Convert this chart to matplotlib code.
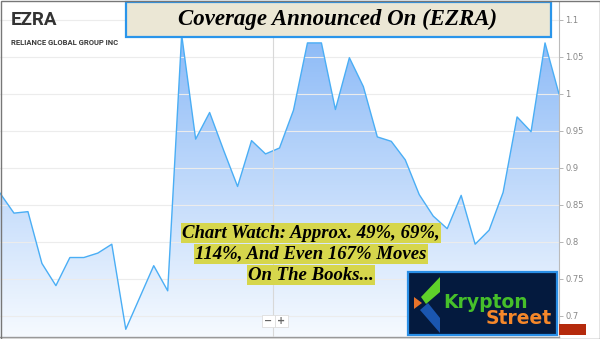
import numpy as np
import matplotlib
matplotlib.use("Agg")
import matplotlib.pyplot as plt
from matplotlib.colors import LinearSegmentedColormap
from matplotlib.patches import Rectangle, Polygon
from matplotlib.transforms import Affine2D

saida = "out.png"

# daily closes (EZRA)
precos = [0.866, 0.839, 0.841, 0.771, 0.741, 0.779, 0.779, 0.785, 0.797, 0.682,
          0.725, 0.768, 0.734, 1.08, 0.939, 0.975, 0.924, 0.875, 0.937, 0.919,
          0.927, 0.978, 1.069, 1.069, 0.979, 1.049, 1.01, 0.942, 0.936, 0.911,
          0.864, 0.835, 0.818, 0.863, 0.797, 0.816, 0.867, 0.969, 0.949, 1.069,
          1.0]
ticks_y = [0.7, 0.75, 0.8, 0.85, 0.9, 0.95, 1.0, 1.05, 1.1]

titulo = "Coverage Announced On (EZRA)"
ticker = "EZRA"
empresa = "RELIANCE GLOBAL GROUP INC"
nota = ["Chart Watch: Approx. 49%, 69%,",
        "114%, And Even 167% Moves",
        "On The Books..."]


def gerar_grafico():
    fig = plt.figure(figsize=(6, 3.39), dpi=100)
    fig.patch.set_facecolor("white")
    # pixel coords, origin top-left
    px = Affine2D().scale(1 / 600, -1 / 339).translate(0, 1) + fig.transFigure

    ax = fig.add_axes([0, 2 / 339, 559 / 600, 335 / 339])
    ymin, ymax = 0.6716, 1.1243
    x = np.arange(len(precos))

    ax.grid(True, axis="y", color="#ececec", lw=0.8, zorder=0)

    poly = ax.fill_between(x, precos, ymin, color="none", lw=0)
    caminho = poly.get_paths()[0]
    cmap = LinearSegmentedColormap.from_list("azul", ["#f6faff", "#8cbaf7"])
    grad = np.linspace(1, 0, 256).reshape(-1, 1)
    im = ax.imshow(grad, extent=[0, len(precos) - 1, ymin, 1.08], aspect="auto",
                   cmap=cmap, origin="upper", zorder=1)
    im.set_clip_path(caminho, transform=ax.transData)

    ax.plot(x, precos, color="#4aaef5", lw=1.0, zorder=2)

    ax.set_xlim(0, len(precos) - 1)
    ax.set_ylim(ymin, ymax)
    ax.set_xticks([])
    ax.yaxis.tick_right()
    ax.set_yticks(ticks_y)
    ax.set_yticklabels([f"{v:g}" for v in ticks_y])
    ax.tick_params(axis="y", length=3, width=0.6, color="#aaaaaa",
                   labelsize=6, labelcolor="#888888", pad=1.5)
    for lado in ["left", "top"]:
        ax.spines[lado].set_visible(False)
    ax.spines["right"].set_color("#bbbbbb")
    ax.spines["right"].set_linewidth(0.8)
    ax.spines["bottom"].set_color("#999999")
    ax.spines["bottom"].set_linewidth(1.0)

    # crosshair
    ax.plot([0.488, 0.488], [0, 0.9], transform=ax.transAxes,
            color="#d8d8d8", lw=0.8, zorder=3)

    # ticker header
    fig.text(11, 20, ticker, transform=px, family="Roboto", weight="bold",
             fontsize=13.5, color="#333333", va="center", ha="left")
    fig.text(11, 42.5, empresa, transform=px, family="Roboto", weight="bold",
             fontsize=5.5, color="#3a3a3a", va="center", ha="left")

    # title box
    fig.patches.append(Rectangle((126, 2), 425, 35, transform=px,
                                 facecolor="#ebe7d5", edgecolor="#2a95ea", lw=1.6))
    fig.text(338, 19, titulo, transform=px, family="Liberation Serif",
             weight="bold", style="italic", fontsize=16.5, color="black",
             ha="center", va="center")

    # yellow note
    for i, linha in enumerate(nota):
        fig.text(311, 233 + i * 21, linha, transform=px, family="Liberation Serif",
                 weight="bold", style="italic", fontsize=13.5, color="black",
                 ha="center", va="center",
                 bbox=dict(facecolor="#d6d64c", edgecolor="none", pad=1.0))

    # zoom buttons
    for bx, s in [(262, "\u2212"), (275, "+")]:
        fig.patches.append(Rectangle((bx, 315), 13, 12, transform=px,
                                     facecolor="white", edgecolor="#dddddd", lw=0.6))
        fig.text(bx + 6.5, 321, s, transform=px, fontsize=7, color="#666666",
                 ha="center", va="center", weight="bold")

    # logo
    fig.patches.append(Rectangle((408, 272), 149, 63, transform=px,
                                 facecolor="#041a3e", edgecolor="#2a8fe6", lw=1.6))
    fig.patches.append(Polygon([(421, 297), (440, 277), (440, 292), (426, 304)],
                               transform=px, facecolor="#5fd12a", edgecolor="none"))
    fig.patches.append(Polygon([(414, 297), (414, 309), (422, 303)],
                               transform=px, facecolor="#e8732a", edgecolor="none"))
    fig.patches.append(Polygon([(420, 310), (428, 303), (440, 318), (440, 333)],
                               transform=px, facecolor="#1a56b0", edgecolor="none"))
    fig.text(443, 302, "Krypton", transform=px, family="DejaVu Sans",
             weight="bold", fontsize=13.5, color="#46c02a", ha="left", va="center")
    fig.text(552, 318, "Street", transform=px, family="DejaVu Sans",
             weight="bold", fontsize=13.5, color="#f5872a", ha="right", va="center")

    # last price marker
    fig.patches.append(Rectangle((559, 324), 27, 11, transform=px,
                                 facecolor="#b52a0c", edgecolor="none"))

    # frame
    fig.patches.append(Rectangle((0.5, 0.5), 599, 338, transform=px,
                                 facecolor="none", edgecolor="#777777", lw=1.0))

    fig.savefig(saida, dpi=100)
    plt.close(fig)


if __name__ == "__main__":
    gerar_grafico()
